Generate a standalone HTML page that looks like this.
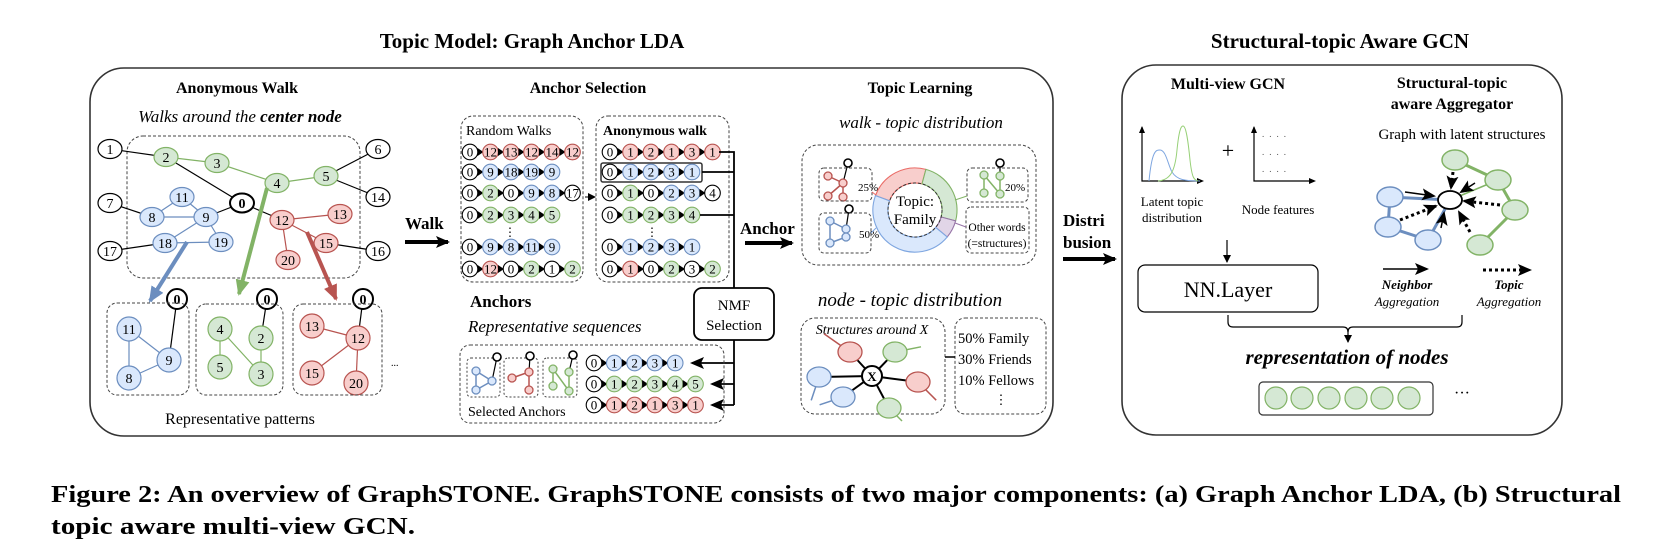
<!DOCTYPE html>
<html><head><meta charset="utf-8"><style>
html,body{margin:0;padding:0;background:#fff;}
svg{display:block;font-family:"Liberation Serif",serif;}
</style></head><body>
<svg id="s" width="1661" height="557" viewBox="0 0 1661 557" xmlns="http://www.w3.org/2000/svg">
<defs>
<marker id="ah" markerWidth="8" markerHeight="8" refX="7" refY="4" orient="auto" markerUnits="userSpaceOnUse"><path d="M0,0 L8,4 L0,8 z" fill="#000"/></marker>
<marker id="ahb" markerWidth="14" markerHeight="12" refX="12" refY="6" orient="auto" markerUnits="userSpaceOnUse"><path d="M0,0 L14,6 L0,12 L3,6 z" fill="#000"/></marker>
<marker id="ahB" markerWidth="16" markerHeight="14" refX="14" refY="7" orient="auto" markerUnits="userSpaceOnUse"><path d="M0,0 L16,7 L0,14 z" fill="#6c8ebf"/></marker>
<marker id="ahG" markerWidth="16" markerHeight="14" refX="14" refY="7" orient="auto" markerUnits="userSpaceOnUse"><path d="M0,0 L16,7 L0,14 z" fill="#82b366"/></marker>
<marker id="ahR" markerWidth="16" markerHeight="14" refX="14" refY="7" orient="auto" markerUnits="userSpaceOnUse"><path d="M0,0 L16,7 L0,14 z" fill="#b85450"/></marker>
</defs>

<text x="532" y="48" font-size="21" font-weight="bold" text-anchor="middle">Topic Model:  Graph Anchor LDA</text>
<text x="1340" y="48" font-size="21" font-weight="bold" text-anchor="middle">Structural-topic Aware GCN</text>

<rect x="90" y="68" width="963" height="368" rx="34" fill="none" stroke="#333" stroke-width="1.6"/>
<rect x="1122" y="65" width="440" height="370" rx="34" fill="none" stroke="#333" stroke-width="1.6"/>

<text x="237" y="93" font-size="16" font-weight="bold" text-anchor="middle">Anonymous Walk</text>
<text x="240" y="122" font-size="17" font-style="italic" text-anchor="middle">Walks around the <tspan font-weight="bold">center node</tspan></text>
<rect x="127" y="136" width="233" height="142" rx="16" fill="none" stroke="#444" stroke-dasharray="3,2"/>
<g id="biggraph"></g>
<rect x="107" y="303" width="82" height="92" rx="10" fill="none" stroke="#444" stroke-dasharray="3,2"/>
<rect x="196" y="304" width="87" height="91" rx="10" fill="none" stroke="#444" stroke-dasharray="3,2"/>
<rect x="293" y="304" width="89" height="91" rx="10" fill="none" stroke="#444" stroke-dasharray="3,2"/>
<text x="391" y="366" font-size="10">...</text>
<text x="240" y="424" font-size="16" text-anchor="middle">Representative patterns</text>
<line x1="187" y1="242" x2="150" y2="301" stroke="#6c8ebf" stroke-width="4" marker-end="url(#ahB)"/>
<line x1="267" y1="188" x2="239" y2="294" stroke="#82b366" stroke-width="4" marker-end="url(#ahG)"/>
<line x1="307" y1="232" x2="336" y2="299" stroke="#b85450" stroke-width="4" marker-end="url(#ahR)"/>

<text x="405" y="229" font-size="17" font-weight="bold">Walk</text>
<line x1="405" y1="242" x2="448" y2="242" stroke="#000" stroke-width="4" marker-end="url(#ahb)"/>

<text x="588" y="93" font-size="16" font-weight="bold" text-anchor="middle">Anchor Selection</text>
<rect x="461" y="116" width="122" height="166" rx="12" fill="none" stroke="#444" stroke-dasharray="3,2"/>
<text x="466" y="135" font-size="14">Random Walks</text>
<rect x="596" y="116" width="133" height="166" rx="12" fill="none" stroke="#444" stroke-dasharray="3,2"/>
<text x="603" y="135" font-size="14" font-weight="bold">Anonymous walk</text>
<rect x="601" y="163" width="101" height="19" rx="2" fill="none" stroke="#333" stroke-width="1.5"/>
<line x1="585" y1="197" x2="595" y2="197" stroke="#000" stroke-width="1" marker-end="url(#ah)"/>
<text x="510" y="236" font-size="12" text-anchor="middle">⋮</text>
<text x="652" y="236" font-size="12" text-anchor="middle">⋮</text>
<g id="seqs"></g>
<g stroke="#000" stroke-width="1.8" fill="none">
<polyline points="719,152 734,152 734,288"/>
<line x1="702" y1="172" x2="734" y2="172"/>
<line x1="700" y1="215" x2="734" y2="215"/>
<line x1="734" y1="340" x2="734" y2="405"/>
</g>
<g stroke="#000" stroke-width="1.8">
<line x1="734" y1="363" x2="692" y2="363" marker-end="url(#ahb)"/>
<line x1="734" y1="384" x2="712" y2="384" marker-end="url(#ahb)"/>
<line x1="734" y1="405" x2="712" y2="405" marker-end="url(#ahb)"/>
</g>
<rect x="694" y="288" width="80" height="52" rx="8" fill="#fff" stroke="#000" stroke-width="1.8"/>
<text x="734" y="310" font-size="15" text-anchor="middle">NMF</text>
<text x="734" y="330" font-size="15" text-anchor="middle">Selection</text>
<text x="470" y="307" font-size="17" font-weight="bold">Anchors</text>
<text x="468" y="332" font-size="17" font-style="italic">Representative sequences</text>
<rect x="460" y="345" width="264" height="78" rx="10" fill="none" stroke="#444" stroke-dasharray="3,2"/>
<rect x="467" y="358" width="33" height="39" rx="4" fill="none" stroke="#444" stroke-dasharray="2,2"/>
<rect x="504" y="358" width="34" height="39" rx="4" fill="none" stroke="#444" stroke-dasharray="2,2"/>
<rect x="543" y="358" width="34" height="39" rx="4" fill="none" stroke="#444" stroke-dasharray="2,2"/>
<g id="icons"></g>
<text x="468" y="416" font-size="14">Selected Anchors</text>

<text x="740" y="234" font-size="17" font-weight="bold">Anchor</text>
<line x1="745" y1="243" x2="792" y2="243" stroke="#000" stroke-width="4" marker-end="url(#ahb)"/>

<text x="920" y="93" font-size="16" font-weight="bold" text-anchor="middle">Topic Learning</text>
<text x="921" y="128" font-size="17" font-style="italic" text-anchor="middle">walk - topic distribution</text>
<rect x="802" y="145" width="234" height="120" rx="16" fill="none" stroke="#444" stroke-dasharray="3,2"/>
<rect x="819" y="168" width="53" height="33" rx="5" fill="none" stroke="#444" stroke-dasharray="3,2"/>
<rect x="819" y="213" width="52" height="40" rx="5" fill="none" stroke="#444" stroke-dasharray="3,2"/>
<rect x="967" y="168" width="61" height="34" rx="5" fill="none" stroke="#444" stroke-dasharray="3,2"/>
<rect x="966" y="207" width="63" height="46" rx="5" fill="none" stroke="#444" stroke-dasharray="3,2"/>
<text x="858" y="191" font-size="11">25%</text>
<text x="859" y="238" font-size="11">50%</text>
<text x="1005" y="191" font-size="11">20%</text>
<text x="997" y="231" font-size="11.5" text-anchor="middle">Other words</text>
<text x="997" y="247" font-size="11.5" text-anchor="middle">(=structures)</text>
<g id="donut"></g>
<circle cx="915" cy="210" r="27" fill="none" stroke="#333" stroke-dasharray="3,2"/>
<text x="915" y="206" font-size="15" text-anchor="middle">Topic:</text>
<text x="915" y="224" font-size="15" text-anchor="middle">Family</text>

<text x="910" y="306" font-size="19" font-style="italic" text-anchor="middle">node - topic distribution</text>
<rect x="801" y="318" width="144" height="96" rx="14" fill="none" stroke="#444" stroke-dasharray="3,2"/>
<rect x="955" y="318" width="91" height="96" rx="10" fill="none" stroke="#444" stroke-dasharray="3,2"/>
<line x1="945" y1="357" x2="955" y2="357" stroke="#000" stroke-width="1.5"/>
<text x="872" y="334" font-size="14" font-style="italic" text-anchor="middle">Structures around X</text>
<g id="struct"></g>
<text x="958" y="343" font-size="14.5">50% Family</text>
<text x="958" y="364" font-size="14.5">30% Friends</text>
<text x="958" y="385" font-size="14.5">10% Fellows</text>
<text x="1001" y="404" font-size="13" text-anchor="middle">⋮</text>

<text x="1063" y="226" font-size="17" font-weight="bold">Distri</text>
<text x="1063" y="248" font-size="17" font-weight="bold">busion</text>
<line x1="1063" y1="259" x2="1115" y2="259" stroke="#000" stroke-width="4" marker-end="url(#ahb)"/>

<text x="1228" y="89" font-size="16" font-weight="bold" text-anchor="middle">Multi-view GCN</text>
<text x="1452" y="88" font-size="16" font-weight="bold" text-anchor="middle">Structural-topic</text>
<text x="1452" y="109" font-size="16" font-weight="bold" text-anchor="middle">aware Aggregator</text>
<text x="1462" y="139" font-size="15" text-anchor="middle">Graph with latent structures</text>
<g stroke="#000" stroke-width="1.2" fill="none">
<polyline points="1142,127 1142,181 1202,181" />
<polyline points="1254,127 1254,181 1314,181" />
</g>
<path d="M1139,133 L1142,126 L1145,133 z M1197,178 L1204,181 L1197,184 z M1251,133 L1254,126 L1257,133 z M1309,178 L1316,181 L1309,184 z"/>
<path d="M1149,181 C1152,150 1156,150 1160,150 C1166,150 1168,165 1172,172 C1177,180 1185,181 1200,181" fill="none" stroke="#7ea6e0" stroke-width="1"/>
<path d="M1158,181 C1170,180 1175,172 1177,150 C1179,130 1181,126 1183,126 C1186,126 1188,140 1190,160 C1192,178 1194,180 1198,181" fill="none" stroke="#97d077" stroke-width="1"/>
<text x="1228" y="158" font-size="22" text-anchor="middle" font-weight="300">+</text>
<g fill="#555" font-size="9"><text x="1262" y="137" letter-spacing="5">....</text><text x="1262" y="155" letter-spacing="5">....</text><text x="1262" y="172" letter-spacing="5">....</text></g>
<text x="1172" y="206" font-size="13" text-anchor="middle">Latent topic</text>
<text x="1172" y="222" font-size="13" text-anchor="middle">distribution</text>
<text x="1278" y="214" font-size="13" text-anchor="middle">Node features</text>
<line x1="1227" y1="240" x2="1227" y2="262" stroke="#000" stroke-width="1.2" marker-end="url(#ah)"/>
<rect x="1138" y="265" width="180" height="47" rx="7" fill="none" stroke="#000" stroke-width="1.2"/>
<text x="1228" y="297" font-size="22" text-anchor="middle">NN.Layer</text>
<path d="M1228,315 L1228,322 Q1228,327 1233,327 L1343,327 Q1348,327 1348,332 Q1348,327 1353,327 L1457,327 Q1462,327 1462,322 L1462,315" fill="none" stroke="#000" stroke-width="1.2"/>
<line x1="1348" y1="330" x2="1348" y2="342" stroke="#000" stroke-width="1.2" marker-end="url(#ah)"/>
<text x="1347" y="364" font-size="21" font-weight="bold" font-style="italic" text-anchor="middle">representation of nodes</text>
<rect x="1259" y="382" width="174" height="33" rx="4" fill="none" stroke="#333" stroke-width="1.2"/>
<g fill="#d5e8d4" stroke="#82b366" stroke-width="1.2">
<circle cx="1276" cy="398" r="11"/><circle cx="1302" cy="398" r="11"/><circle cx="1329" cy="398" r="11"/><circle cx="1356" cy="398" r="11"/><circle cx="1382" cy="398" r="11"/><circle cx="1409" cy="398" r="11"/>
</g>
<text x="1462" y="398" font-size="16" text-anchor="middle">···</text>
<line x1="1383" y1="269" x2="1427" y2="269" stroke="#000" stroke-width="1.5" marker-end="url(#ahb)"/>
<text x="1407" y="289" font-size="13" font-weight="bold" font-style="italic" text-anchor="middle">Neighbor</text>
<text x="1407" y="306" font-size="13" font-style="italic" text-anchor="middle">Aggregation</text>
<line x1="1483" y1="270" x2="1530" y2="270" stroke="#000" stroke-width="3" stroke-dasharray="3,3" marker-end="url(#ahb)"/>
<text x="1509" y="289" font-size="13" font-weight="bold" font-style="italic" text-anchor="middle">Topic</text>
<text x="1509" y="306" font-size="13" font-style="italic" text-anchor="middle">Aggregation</text>
<g id="agg"></g>

<text x="51" y="502" font-size="24" font-weight="bold" textLength="1570" lengthAdjust="spacingAndGlyphs">Figure 2: An overview of GraphSTONE. GraphSTONE consists of two major components: (a) Graph Anchor LDA, (b) Structural</text>
<text x="51" y="534" font-size="24" font-weight="bold" textLength="364" lengthAdjust="spacingAndGlyphs">topic aware multi-view GCN.</text>
</svg>
<script>
var NS="http://www.w3.org/2000/svg";
function el(p,t,a,txt){var e=document.createElementNS(NS,t);for(var k in a)e.setAttribute(k,a[k]);if(txt!==undefined)e.textContent=txt;p.appendChild(e);return e;}
var C={w:["#fff","#000"],r:["#f8cecc","#b85450"],b:["#dae8fc","#6c8ebf"],g:["#d5e8d4","#82b366"]};
var G=document.getElementById("biggraph");
var N={1:[110,149,"w"],2:[166,157,"g"],3:[217,163,"g"],4:[277,183,"g"],5:[326,176,"g"],6:[378,149,"w"],14:[378,197,"w"],0:[242,203,"w"],7:[110,203,"w"],11:[182,197,"b"],8:[152,217,"b"],9:[206,217,"b"],12:[282,220,"r"],13:[340,214,"r"],17:[110,251,"w"],18:[165,243,"b"],19:[221,242,"b"],15:[326,243,"r"],16:[378,251,"w"],20:[288,260,"r"]};
var E=[[1,2,"#000"],[2,3,"#82b366"],[3,4,"#82b366"],[4,5,"#82b366"],[5,6,"#000"],[5,14,"#000"],[2,0,"#000"],[0,9,"#000"],[0,12,"#000"],[7,8,"#000"],[8,11,"#6c8ebf"],[8,9,"#6c8ebf"],[11,9,"#6c8ebf"],[9,18,"#6c8ebf"],[9,19,"#6c8ebf"],[18,19,"#6c8ebf"],[17,18,"#000"],[12,13,"#b85450"],[12,15,"#b85450"],[12,20,"#b85450"],[15,16,"#000"]];
E.forEach(function(e){var a=N[e[0]],b=N[e[1]];el(G,"line",{x1:a[0],y1:a[1],x2:b[0],y2:b[1],stroke:e[2],"stroke-width":1.2});});
for(var k in N){var n=N[k],c=C[n[2]];el(G,"ellipse",{cx:n[0],cy:n[1],rx:12,ry:9.5,fill:c[0],stroke:c[1],"stroke-width":k=="0"?2:1.2});el(G,"text",{x:n[0],y:n[1]+5,"font-size":14,"text-anchor":"middle","font-weight":k=="0"?"bold":"normal"},k);}
var P=[{n:{0:[177,299,"w"],11:[129,329,"b"],9:[169,360,"b"],8:[129,378,"b"]},e:[[0,9,"#000"],[11,9,"#6c8ebf"],[11,8,"#6c8ebf"],[8,9,"#6c8ebf"]]},
{n:{0:[267,299,"w"],4:[220,329,"g"],2:[261,338,"g"],5:[220,367,"g"],3:[261,374,"g"]},e:[[0,2,"#000"],[2,3,"#82b366"],[4,3,"#82b366"],[4,5,"#82b366"]]},
{n:{0:[363,299,"w"],13:[312,326,"r"],12:[358,338,"r"],15:[312,373,"r"],20:[356,383,"r"]},e:[[0,12,"#000"],[13,12,"#b85450"],[12,15,"#b85450"],[12,20,"#b85450"]]}];
P.forEach(function(p){p.e.forEach(function(e){var a=p.n[e[0]],b=p.n[e[1]];el(G,"line",{x1:a[0],y1:a[1],x2:b[0],y2:b[1],stroke:e[2],"stroke-width":1.2});});
for(var k in p.n){var n=p.n[k],c=C[n[2]];el(G,"circle",{cx:n[0],cy:n[1],r:k=="0"?10:12,fill:c[0],stroke:c[1],"stroke-width":k=="0"?2:1.2});el(G,"text",{x:n[0],y:n[1]+5,"font-size":14,"text-anchor":"middle","font-weight":k=="0"?"bold":"normal"},k);}});
var S=document.getElementById("seqs");
function seq(x0,y,items,dx){dx=dx||20.5;items.forEach(function(it,i){var cx=x0+i*dx;var c=C[it[1]];
el(S,"circle",{cx:cx,cy:y,r:7.8,fill:c[0],stroke:c[1],"stroke-width":1.1});
el(S,"text",{x:cx,y:y+4.5,"font-size":13,"text-anchor":"middle"},it[0]);
if(i<items.length-1){var ax=cx+7.5;el(S,"path",{d:"M"+ax+","+(y-4)+" L"+(ax+6)+","+y+" L"+ax+","+(y+4)+" z",fill:"#000"});}});}
function P2(s){return s.split(" ").map(function(t){return [t.slice(0,-1),t.slice(-1)];});}
var RW=["0w 12r 13r 12r 14r 12r","0w 9b 18b 19b 9b","0w 2g 0w 9b 8b 17w","0w 2g 3g 4g 5g","0w 9b 8b 11b 9b","0w 12r 0w 2g 1w 2g"];
var AW=["0w 1r 2r 1r 3r 1r","0w 1b 2b 3b 1b","0w 1g 0w 2b 3b 4w","0w 1g 2g 3g 4g","0w 1b 2b 3b 1b","0w 1r 0w 2g 3w 2g"];
var YS=[152,172,193,215,247,269];
RW.forEach(function(r,i){seq(470,YS[i],P2(r));});
AW.forEach(function(r,i){seq(610,YS[i],P2(r));});
["0w 1b 2b 3b 1b","0w 1g 2g 3g 4g 5g","0w 1r 2r 1r 3r 1r"].forEach(function(r,i){seq(594,[363,384,405][i],P2(r),20.3);});
var I=document.getElementById("icons");
function icon(nodes,edges,col,top,par){var c=C[col];el(par,"line",{x1:top[0],y1:top[1],x2:nodes[0][0],y2:nodes[0][1],stroke:"#000","stroke-width":1.2});
edges.forEach(function(e){var a=nodes[e[0]],b=nodes[e[1]];el(par,"line",{x1:a[0],y1:a[1],x2:b[0],y2:b[1],stroke:c[1],"stroke-width":1.5});});
nodes.forEach(function(n){el(par,"circle",{cx:n[0],cy:n[1],r:n[2]||4,fill:c[0],stroke:c[1],"stroke-width":1.3});});
el(par,"circle",{cx:top[0],cy:top[1],r:top[2]||4,fill:"#fff",stroke:"#000","stroke-width":1.6});}
icon([[492,381],[476,371],[476,390]],[[0,1],[1,2],[2,0]],"b",[497,357],I);
icon([[529,372],[512,378],[529,390]],[[0,1],[0,2]],"r",[530,356],I);
icon([[569,372],[553,369],[553,386],[569,391]],[[0,3],[3,1],[1,2]],"g",[573,355],I);
icon([[843,183],[828,176],[828,196],[843,197]],[[0,1],[0,2],[0,3]],"r",[848,163],I);
icon([[846,229],[830,221],[830,243],[846,237]],[[1,2],[2,3],[3,0],[0,1]],"b",[849,209],I);
icon([[1000,176],[984,175],[984,193],[1000,194]],[[0,3],[3,1],[1,2]],"g",[1000,163],I);
var D=document.getElementById("donut");
function arc(a0,a1,fill,stroke){var cx=915,cy=210,R=42,r=27;function p(a,rr){var t=a*Math.PI/180;return (cx+rr*Math.cos(t)).toFixed(1)+","+(cy+rr*Math.sin(t)).toFixed(1);}
var lg=(a1-a0)>180?1:0;el(D,"path",{d:"M"+p(a0,R)+" A"+R+","+R+" 0 "+lg+" 1 "+p(a1,R)+" L"+p(a1,r)+" A"+r+","+r+" 0 "+lg+" 0 "+p(a0,r)+" z",fill:fill,stroke:stroke,"stroke-width":1.1});}
arc(200,285,"#f8cecc","#ea6b66");arc(285,375,"#d5e8d4","#82b366");arc(15,40,"#e1d5e7","#9673a6");arc(40,200,"#dae8fc","#7ea6e0");
el(D,"line",{x1:872,y1:192,x2:876,y2:195,stroke:"#ea6b66"});el(D,"line",{x1:871,y1:233,x2:876,y2:228,stroke:"#7ea6e0"});
el(D,"line",{x1:955,y1:200,x2:967,y2:196,stroke:"#82b366"});el(D,"line",{x1:955,y1:223,x2:966,y2:227,stroke:"#9673a6"});
var T=document.getElementById("struct");var X=[872,376];
[[850,352,"r",-20,-14],[895,352,"g",20,-4],[819,377,"b",-6,18],[843,397,"b",-18,6],[918,382,"r",14,14],[889,408,"g",10,10]].forEach(function(s){var c=C[s[2]];
el(T,"line",{x1:X[0],y1:X[1],x2:s[0],y2:s[1],stroke:"#000","stroke-width":2});
el(T,"line",{x1:s[0],y1:s[1],x2:s[0]+s[3]*1.3,y2:s[1]+s[4]*1.3,stroke:c[1],"stroke-width":1.5});
el(T,"ellipse",{cx:s[0],cy:s[1],rx:12,ry:10,fill:c[0],stroke:c[1],"stroke-width":1.3});});
el(T,"circle",{cx:X[0],cy:X[1],r:10,fill:"#fff",stroke:"#000","stroke-width":2});
el(T,"text",{x:X[0],y:X[1]+5,"font-size":13,"font-weight":"bold","text-anchor":"middle"},"X");
var A=document.getElementById("agg");var Cn=[1450,200];
var B=[[1390,197],[1388,227],[1428,240]],Gn=[[1455,160],[1498,180],[1515,210],[1480,245]];
[[B[0],Cn],[B[0],B[1]],[B[1],B[2]],[B[2],Cn]].forEach(function(e){el(A,"line",{x1:e[0][0],y1:e[0][1],x2:e[1][0],y2:e[1][1],stroke:"#6c8ebf","stroke-width":3});});
[[Gn[0],Gn[1]],[Gn[1],Gn[2]],[Gn[2],Gn[3]]].forEach(function(e){el(A,"line",{x1:e[0][0],y1:e[0][1],x2:e[1][0],y2:e[1][1],stroke:"#82b366","stroke-width":3});});
el(A,"line",{x1:Gn[1][0],y1:Gn[1][1],x2:Cn[0],y2:Cn[1],stroke:"#82b366","stroke-width":1.5});
B.forEach(function(n){el(A,"ellipse",{cx:n[0],cy:n[1],rx:13,ry:10,fill:"#dae8fc",stroke:"#6c8ebf","stroke-width":1.5});});
Gn.forEach(function(n){el(A,"ellipse",{cx:n[0],cy:n[1],rx:13,ry:10,fill:"#d5e8d4",stroke:"#82b366","stroke-width":1.5});});
[[1405,192,1434,196],[1441,228,1444,213],[1475,183,1461,192]].forEach(function(a){el(A,"line",{x1:a[0],y1:a[1],x2:a[2],y2:a[3],stroke:"#000","stroke-width":1.5,"marker-end":"url(#ahb)"});});
[[1400,220,1436,206],[1453,172,1451,188],[1500,205,1464,201],[1470,232,1459,212]].forEach(function(a){el(A,"line",{x1:a[0],y1:a[1],x2:a[2],y2:a[3],stroke:"#000","stroke-width":3,"stroke-dasharray":"3,3","marker-end":"url(#ahb)"});});
el(A,"ellipse",{cx:Cn[0],cy:Cn[1],rx:12,ry:9,fill:"#fff",stroke:"#000","stroke-width":1.8});
</script>
</body></html>
